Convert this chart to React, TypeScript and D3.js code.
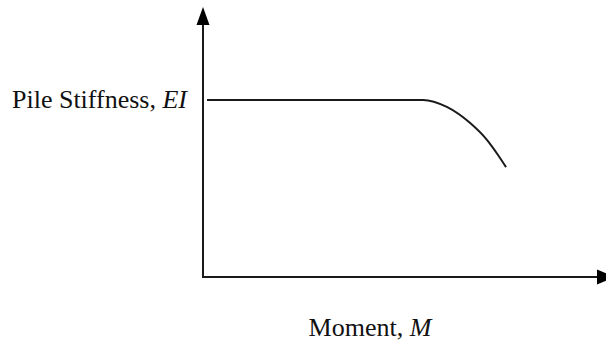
import React, { useRef, useEffect } from "react";
import * as d3 from "d3";

// moment M vs pile stiffness EI (arbitrary units 0-100)
const moment = [1, 54.6, 60.5, 66.3, 70.5, 73.2, 75.2];
const stiffness = [65.6, 65.6, 63.0, 57.0, 50.7, 45.2, 40.7];

const xLabel = "Moment, ";
const xLabelItalic = "M";
const yLabel = "Pile Stiffness, ";
const yLabelItalic = "EI";

const width = 606;
const height = 341;
const margin = { top: 7, right: 0, bottom: 64, left: 203 };

const App = () => {
  const svgRef = useRef<SVGSVGElement | null>(null);

  useEffect(() => {
    const svg = d3.select(svgRef.current);
    svg.selectAll("*").remove();

    const xScale = d3
      .scaleLinear()
      .domain([0, 100])
      .range([margin.left, width - margin.right]);
    const yScale = d3
      .scaleLinear()
      .domain([0, 100])
      .range([height - margin.bottom, margin.top]);

    const ink = "#1a1a1a";
    const x0 = xScale(0);
    const y0 = yScale(0);

    // axes
    svg
      .append("line")
      .attr("x1", x0)
      .attr("x2", x0)
      .attr("y1", y0)
      .attr("y2", yScale(100) + 12)
      .attr("stroke", ink)
      .attr("stroke-width", 2);
    svg
      .append("line")
      .attr("x1", x0 - 1)
      .attr("x2", xScale(100) - 6)
      .attr("y1", y0)
      .attr("y2", y0)
      .attr("stroke", ink)
      .attr("stroke-width", 2);

    // arrowheads
    const yTip = yScale(100);
    svg
      .append("path")
      .attr("d", `M${x0},${yTip} L${x0 - 6.5},${yTip + 18} L${x0 + 6.5},${yTip + 18} Z`)
      .attr("fill", "#000");
    const xTip = xScale(100) + 9;
    svg
      .append("path")
      .attr("d", `M${xTip},${y0} L${xTip - 18},${y0 - 7.5} L${xTip - 18},${y0 + 7.5} Z`)
      .attr("fill", "#000");

    // stiffness curve
    const pts = moment.map((m, i) => [m, stiffness[i]] as [number, number]);
    const line = d3
      .line<[number, number]>()
      .x((d) => xScale(d[0]))
      .y((d) => yScale(d[1]))
      .curve(d3.curveMonotoneX);
    svg
      .append("path")
      .datum(pts)
      .attr("fill", "none")
      .attr("stroke", ink)
      .attr("stroke-width", 2)
      .attr("d", line);

    const font = "'Liberation Serif', 'Times New Roman', serif";

    // y label
    const yt = svg
      .append("text")
      .attr("x", 187)
      .attr("y", yScale(stiffness[0]) + 8)
      .attr("text-anchor", "end")
      .attr("font-family", font)
      .attr("font-size", 26)
      .attr("fill", "#111");
    yt.append("tspan").text(yLabel);
    yt.append("tspan").attr("font-style", "italic").text(yLabelItalic);

    // x label
    const xt = svg
      .append("text")
      .attr("x", 370)
      .attr("y", 336)
      .attr("text-anchor", "middle")
      .attr("font-family", font)
      .attr("font-size", 26)
      .attr("fill", "#111");
    xt.append("tspan").text(xLabel);
    xt.append("tspan").attr("font-style", "italic").text(xLabelItalic);
  }, []);

  return (
    <svg
      ref={svgRef}
      width={width}
      height={height}
      style={{ position: "absolute", left: 0, top: 0, background: "#fff" }}
    ></svg>
  );
};

export default App;
